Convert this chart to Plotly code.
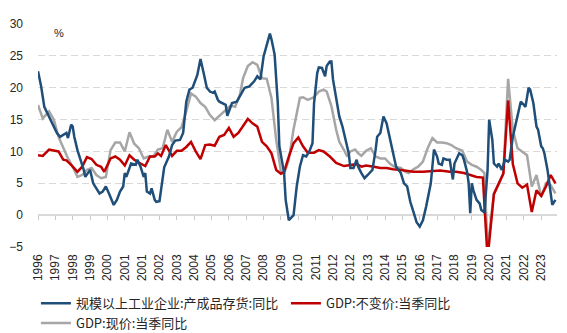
import plotly.graph_objects as go

# Period index (0 = first observation), category labels shown every 11 periods
tick_period = list(range(0, 330, 11))
tick_labels = ["1996", "1997", "1998", "1999", "2000", "2001", "2001", "2002", "2003", "2004",
               "2005", "2006", "2007", "2008", "2009", "2010", "2011", "2012", "2012", "2013",
               "2014", "2015", "2016", "2017", "2018", "2019", "2020", "2021", "2022", "2023"]

# 规模以上工业企业:产成品存货:同比 (%)
inv_period = [0, 2, 4, 7, 10, 12, 14, 16, 18, 19, 21, 22, 23, 25, 27, 29, 30, 32, 33, 35,
              37, 39, 41, 43, 45, 47, 48, 50, 52, 54, 55, 56, 58, 59, 62, 63, 65, 67, 68, 69,
              71, 72, 74, 75, 77, 78, 79, 80, 83, 85, 87, 90, 92, 94, 96, 98, 101, 103, 105, 107,
              109, 111, 112, 114, 115, 117, 119, 120, 122, 123, 126, 128, 131, 134, 137, 139, 141, 143, 145, 147,
              148, 150, 152, 153, 156, 157, 159, 162, 164, 166, 168, 170, 172, 174, 175, 177, 178, 180, 182, 183,
              185, 186, 187, 189, 191, 193, 195, 197, 198, 200, 202, 203, 205, 207, 209, 212, 214, 215, 217, 219,
              221, 223, 225, 227, 230, 232, 234, 236, 238, 240, 242, 244, 246, 249, 250, 251, 253, 254, 256, 257,
              259, 261, 263, 264, 267, 269, 270, 272, 273, 274, 275, 276, 278, 280, 281, 283, 285, 286, 288, 289,
              291, 292, 294, 296, 298, 299, 301, 303, 306, 308, 309, 311, 312, 314, 316, 317, 319, 320, 321, 323,
              325, 326, 328]
inv_yoy = [22.6, 20.2, 17.0, 15.5, 13.9, 12.9, 12.3, 12.6, 12.9, 12.1, 14.2, 13.9, 12.3, 10.2, 8.7, 7.1, 6.0, 6.8, 7.1, 5.0,
           4.2, 3.4, 3.7, 4.5, 3.4, 2.1, 1.6, 2.4, 3.7, 4.5, 6.6, 6.0, 7.6, 8.1, 7.9, 8.7, 7.6, 6.0, 6.6, 3.7,
           3.4, 4.2, 2.4, 2.1, 2.2, 3.8, 5.5, 7.5, 9.2, 11.0, 11.7, 11.8, 12.9, 17.8, 19.7, 20.0, 22.0, 24.5, 22.3, 20.0,
           19.4, 19.2, 19.4, 18.1, 17.8, 17.6, 17.3, 15.6, 16.8, 17.6, 17.8, 18.6, 20.0, 20.2, 21.0, 21.8, 21.3, 24.9, 26.8, 28.5,
           27.6, 25.2, 17.6, 10.8, 6.6, 2.4, -0.8, 0.0, 4.5, 7.6, 9.4, 9.2, 10.0, 11.3, 17.6, 22.3, 23.2, 23.1, 21.8, 23.4,
           24.1, 24.1, 21.3, 18.1, 15.5, 13.9, 11.8, 9.7, 7.4, 7.4, 8.7, 7.6, 6.6, 5.8, 6.3, 7.1, 10.2, 12.3, 12.9, 15.5,
           14.4, 12.3, 9.7, 7.6, 6.6, 5.0, 4.5, 2.1, 0.5, -1.1, -1.8, -0.8, 1.3, 5.0, 7.6, 10.3, 9.2, 8.1, 7.9, 8.9,
           8.7, 8.7, 5.6, 8.1, 9.7, 9.4, 8.7, 6.8, 5.0, 0.3, 5.0, 3.9, 2.4, 1.8, 0.8, 0.4, 7.1, 15.0, 11.8, 8.1,
           7.6, 8.1, 7.1, 8.7, 8.4, 8.7, 12.3, 14.4, 17.8, 17.3, 17.0, 20.0, 19.7, 17.6, 13.9, 13.4, 10.8, 10.5, 9.7, 7.1,
           2.9, 1.6, 2.4]

# GDP:不变价:当季同比 (%)
gdp_real_period = [0, 3, 7, 10, 13, 16, 18, 21, 25, 28, 31, 34, 37, 40, 42, 46, 49, 52, 55, 58,
                   61, 65, 68, 71, 74, 76, 78, 81, 85, 88, 91, 94, 97, 100, 103, 106, 109, 112, 115, 118,
                   121, 124, 127, 130, 133, 136, 139, 142, 145, 148, 151, 154, 156, 159, 162, 165, 168, 171, 175, 178,
                   181, 185, 189, 194, 198, 202, 205, 208, 213, 217, 221, 225, 230, 234, 238, 244, 249, 255, 261, 265,
                   270, 274, 278, 282, 285, 289, 292, 295, 298, 301, 304, 307, 310, 313, 316, 319, 322, 325, 328]
gdp_real_yoy = [9.4, 9.3, 10.3, 10.1, 10.0, 8.7, 8.6, 7.9, 6.8, 7.6, 9.1, 8.8, 7.9, 7.6, 6.8, 8.9, 9.2, 8.7, 7.8, 9.4,
                8.7, 8.1, 7.7, 9.2, 9.2, 9.7, 9.3, 11.0, 9.3, 10.1, 10.1, 10.7, 11.5, 10.0, 8.8, 11.0, 11.1, 10.9, 12.3, 12.6,
                13.7, 12.3, 12.9, 14.0, 15.1, 14.4, 13.9, 11.5, 10.8, 9.7, 7.1, 6.5, 6.8, 9.2, 11.3, 12.2, 10.8, 9.8, 9.8, 10.2,
                10.0, 9.2, 8.2, 7.7, 7.8, 8.0, 7.6, 7.8, 7.6, 7.4, 7.4, 7.2, 7.1, 6.9, 6.8, 6.8, 6.9, 7.0, 6.8, 6.8,
                6.6, 6.3, 6.0, 5.9, -6.8, 3.3, 4.9, 6.5, 18.0, 8.0, 5.0, 4.3, 4.8, 0.5, 3.9, 3.0, 4.5, 6.3, 5.0]

# GDP:现价:当季同比 (%)
gdp_nom_period = [0, 3, 7, 10, 13, 16, 19, 22, 25, 28, 31, 34, 37, 40, 43, 46, 49, 52, 55, 58,
                  61, 64, 67, 70, 73, 76, 79, 82, 85, 88, 91, 94, 97, 100, 103, 106, 109, 112, 115, 119,
                  122, 125, 128, 130, 133, 136, 139, 142, 145, 148, 151, 154, 156, 159, 162, 166, 168, 171, 175, 178,
                  181, 183, 186, 189, 191, 194, 196, 198, 201, 203, 205, 208, 211, 214, 217, 220, 223, 226, 230, 233,
                  235, 238, 241, 244, 247, 250, 253, 256, 259, 262, 265, 269, 272, 275, 278, 281, 283, 285, 289, 292,
                  295, 298, 301, 304, 307, 310, 313, 316, 319, 322, 325, 328]
gdp_nom_yoy = [17.3, 15.2, 16.3, 15.0, 12.3, 10.5, 8.9, 7.6, 6.0, 6.3, 7.1, 7.4, 6.3, 5.8, 6.0, 10.2, 11.4, 11.4, 10.0, 13.0,
               11.2, 10.5, 8.9, 9.2, 9.2, 10.3, 10.5, 13.4, 11.5, 13.1, 13.8, 16.3, 19.1, 18.6, 17.6, 17.0, 15.7, 14.9, 15.6, 16.4,
               17.2, 17.0, 18.9, 21.5, 23.4, 24.0, 23.6, 21.5, 21.4, 18.4, 11.8, 6.8, 6.5, 8.7, 13.5, 18.4, 18.5, 18.1, 18.5, 19.4,
               19.7, 19.4, 17.1, 13.4, 11.5, 10.2, 9.2, 10.0, 10.3, 9.7, 9.3, 10.1, 10.5, 9.2, 8.9, 8.9, 8.1, 7.6, 7.4, 6.8,
               6.6, 7.2, 7.6, 8.4, 10.5, 12.1, 11.4, 11.4, 11.3, 11.0, 10.5, 10.1, 8.4, 7.9, 7.6, 7.1, 6.6, -5.3, 3.4, 5.0,
               6.6, 21.4, 13.4, 10.5, 10.0, 9.4, 4.5, 6.3, 2.9, 5.0, 4.7, 3.4]

BLUE = "#1F4E79"
RED = "#C00000"
GREY = "#A6A6A6"
GRID = "#D9D9D9"

fig = go.Figure()
fig.add_trace(go.Scatter(x=inv_period, y=inv_yoy, mode="lines", name="规模以上工业企业:产成品存货:同比",
                         line=dict(color=BLUE, width=2.5), legendrank=1, xaxis="x2"))
fig.add_trace(go.Scatter(x=gdp_nom_period, y=gdp_nom_yoy, mode="lines", name="GDP:现价:当季同比",
                         line=dict(color=GREY, width=2.5), legendrank=3))
fig.add_trace(go.Scatter(x=gdp_real_period, y=gdp_real_yoy, mode="lines", name="GDP:不变价:当季同比",
                         line=dict(color=RED, width=2.5), legendrank=2))

x_range = [0, 329]
y_range = [-5, 30]

fig.update_layout(
    width=567, height=333,
    margin=dict(l=38, r=10, t=24, b=86, autoexpand=False),
    paper_bgcolor="white", plot_bgcolor="white",
    font=dict(family="Liberation Sans, Arial, sans-serif", size=12, color="#262626"),
    showlegend=True,
    legend=dict(orientation="h", x=-0.004, xanchor="left", y=-0.185, yanchor="top",
                font=dict(family="Noto Sans CJK SC", size=13, color="#262626"),
                entrywidth=205, entrywidthmode="pixels", tracegroupgap=0,
                traceorder="normal", bgcolor="rgba(0,0,0,0)"),
    xaxis=dict(range=x_range, tickmode="array", tickvals=tick_period, ticktext=tick_labels,
               tickangle=-90, showgrid=False, zeroline=False, showline=False, ticks="",
               automargin=False, ticklabelstandoff=4, tickfont=dict(size=12, color="#262626")),
    # category tick marks sitting on the zero line
    xaxis2=dict(range=x_range, overlaying="x", matches="x", anchor="free",
                position=(0 - y_range[0]) / (y_range[1] - y_range[0]),
                tickmode="array", tickvals=tick_period, showticklabels=False,
                ticks="outside", ticklen=4, tickwidth=1, tickcolor="#C8C8C8", automargin=False,
                showgrid=False, zeroline=False, showline=False),
    yaxis=dict(range=y_range, tickmode="array", tickvals=[-5, 0, 5, 10, 15, 20, 25, 30],
               showgrid=True, gridcolor=GRID, gridwidth=1, griddash="7px,4px",
               zeroline=True, zerolinecolor=GRID, zerolinewidth=2, automargin=False,
               showline=False, ticks="", ticklabelstandoff=14,
               tickfont=dict(size=12, color="#262626")),
    annotations=[dict(text="%", xref="paper", yref="paper", x=0.04, y=0.96,
                      xanchor="center", yanchor="middle", showarrow=False,
                      font=dict(size=11, color="#262626"))],
)

fig.write_html("out.html")
